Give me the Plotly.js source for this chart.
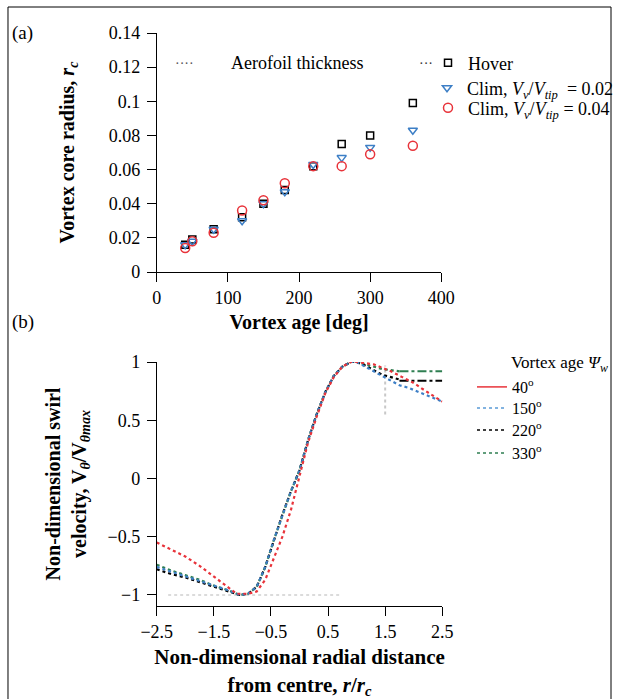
<!DOCTYPE html>
<html>
<head>
<meta charset="utf-8">
<script src="https://cdn.plot.ly/plotly-3.0.1.min.js"></script>
<style>html,body{margin:0;padding:0;background:#fff;}#chart{width:619px;height:699px;}</style>
</head>
<body>
<div id="chart"></div>
<script>
// ---------- Panel (a): vortex core radius vs vortex age ----------
var vortexAge = [40, 50, 80, 120, 150, 180, 220, 260, 300, 360];
var rcHover   = [0.016, 0.019, 0.025, 0.032, 0.040, 0.048, 0.062, 0.075, 0.080, 0.099];
var rcClim002 = [0.016, 0.018, 0.025, 0.030, 0.040, 0.047, 0.063, 0.067, 0.073, 0.083];
var rcClim004 = [0.014, 0.018, 0.023, 0.036, 0.042, 0.052, 0.062, 0.062, 0.069, 0.074];

// ---------- Panel (b): swirl velocity profiles ----------
var r40   = [-2.5, -2.25, -2.0, -1.75, -1.5, -1.25, -1.1, -0.9, -0.75, -0.6, -0.45, -0.3, -0.15, 0.0, 0.15, 0.3, 0.45, 0.6, 0.75, 0.9, 1.0, 1.15, 1.3, 1.45, 1.6, 1.8, 2.0, 2.15, 2.3, 2.5];
var v40   = [-0.55, -0.61, -0.67, -0.75, -0.84, -0.93, -0.99, -0.99, -0.97, -0.87, -0.69, -0.50, -0.27, 0.03, 0.31, 0.53, 0.73, 0.87, 0.96, 1.0, 1.0, 0.99, 0.98, 0.95, 0.92, 0.87, 0.82, 0.77, 0.72, 0.66];

var r150  = [-2.5, -2.25, -2.0, -1.75, -1.5, -1.25, -1.05, -0.9, -0.75, -0.6, -0.45, -0.3, -0.15, 0.0, 0.15, 0.3, 0.45, 0.6, 0.75, 0.9, 1.0, 1.15, 1.3, 1.45, 1.6, 1.75, 1.9, 2.1, 2.3, 2.5];
var v150  = [-0.76, -0.80, -0.84, -0.88, -0.92, -0.96, -1.0, -0.99, -0.93, -0.76, -0.53, -0.31, -0.11, 0.07, 0.33, 0.55, 0.74, 0.88, 0.96, 1.0, 1.0, 0.96, 0.92, 0.88, 0.84, 0.80, 0.78, 0.74, 0.70, 0.66];

var r220  = [-2.5, -2.25, -2.0, -1.75, -1.5, -1.25, -1.05, -0.9, -0.75, -0.6, -0.45, -0.3, -0.15, 0.0, 0.15, 0.3, 0.45, 0.6, 0.75, 0.9, 1.0, 1.15, 1.3, 1.45, 1.6, 1.75];
var v220  = [-0.78, -0.82, -0.85, -0.89, -0.93, -0.97, -1.0, -0.99, -0.93, -0.76, -0.53, -0.31, -0.11, 0.07, 0.33, 0.55, 0.74, 0.88, 0.96, 1.0, 1.0, 0.97, 0.93, 0.89, 0.87, 0.85];
var r220Ext = [1.75, 2.0, 2.25, 2.5];
var v220Ext = [0.84, 0.84, 0.84, 0.84];

var r330  = [-2.5, -2.25, -2.0, -1.75, -1.5, -1.25, -1.05, -0.9, -0.75, -0.6, -0.45, -0.3, -0.15, 0.0, 0.15, 0.3, 0.45, 0.6, 0.75, 0.9, 1.0, 1.15, 1.3, 1.45, 1.6, 1.75];
var v330  = [-0.74, -0.79, -0.83, -0.87, -0.92, -0.96, -1.0, -0.99, -0.93, -0.76, -0.53, -0.31, -0.11, 0.07, 0.33, 0.55, 0.74, 0.88, 0.96, 1.0, 1.0, 0.98, 0.96, 0.94, 0.93, 0.92];
var r330Ext = [1.75, 2.0, 2.25, 2.5];
var v330Ext = [0.92, 0.92, 0.92, 0.92];

// faint reference lines in panel (b)
var refHX = [-2.3, 0.7];
var refHY = [-1.0, -1.0];
var refVX = [1.5, 1.5];
var refVY = [0.55, 0.97];

var ticksA_x = [0, 100, 200, 300, 400];
var ticksA_y = [0, 0.02, 0.04, 0.06, 0.08, 0.1, 0.12, 0.14];
var ticksB_x = [-2.5, -1.5, -0.5, 0.5, 1.5, 2.5];
var ticksB_y = [-1, -0.5, 0, 0.5, 1];

var SERIF = 'Liberation Serif, Times New Roman, serif';
var RED = '#e8333a', BLUE = '#3d7fc6', BLUE2 = '#5a9ad6', GREEN = '#2f7f52';

var traces = [
  // panel (a)
  {x: vortexAge, y: rcHover, xaxis: 'x', yaxis: 'y', type: 'scatter', mode: 'markers', name: 'Hover', legend: 'legend',
   marker: {symbol: 'square-open', size: 7, color: '#000', line: {width: 1.5}}},
  {x: vortexAge, y: rcClim002, xaxis: 'x', yaxis: 'y', type: 'scatter', mode: 'markers', legend: 'legend3',
   name: 'Clim, <i>V</i><sub><i>v</i></sub>/<i>V</i><sub><i>tip</i></sub>  = 0.02',
   marker: {symbol: 'triangle-down-open', size: 8, color: BLUE, line: {width: 1.5}}},
  {x: vortexAge, y: rcClim004, xaxis: 'x', yaxis: 'y', type: 'scatter', mode: 'markers', legend: 'legend4',
   name: 'Clim, <i>V</i><sub><i>v</i></sub>/<i>V</i><sub><i>tip</i></sub> = 0.04',
   marker: {symbol: 'circle-open', size: 9, color: RED, line: {width: 1.5}}},

  // panel (b) reference lines
  {x: refHX, y: refHY, xaxis: 'x2', yaxis: 'y2', type: 'scatter', mode: 'lines', showlegend: false, hoverinfo: 'skip',
   line: {color: '#d0d0d0', width: 1.5, dash: 'dot'}},
  {x: refVX, y: refVY, xaxis: 'x2', yaxis: 'y2', type: 'scatter', mode: 'lines', showlegend: false, hoverinfo: 'skip',
   line: {color: '#c8c8c8', width: 2, dash: 'dot'}},

  // panel (b) curves
  {x: r330, y: v330, xaxis: 'x2', yaxis: 'y2', type: 'scatter', mode: 'lines', showlegend: false,
   line: {color: GREEN, width: 2.2, dash: 'dot'}},
  {x: r330Ext, y: v330Ext, xaxis: 'x2', yaxis: 'y2', type: 'scatter', mode: 'lines', showlegend: false,
   line: {color: GREEN, width: 2, dash: 'dashdot'}},
  {x: r220, y: v220, xaxis: 'x2', yaxis: 'y2', type: 'scatter', mode: 'lines', showlegend: false,
   line: {color: '#000', width: 2.2, dash: 'dot'}},
  {x: r220Ext, y: v220Ext, xaxis: 'x2', yaxis: 'y2', type: 'scatter', mode: 'lines', showlegend: false,
   line: {color: '#000', width: 2, dash: 'dashdot'}},
  {x: r150, y: v150, xaxis: 'x2', yaxis: 'y2', type: 'scatter', mode: 'lines', showlegend: false,
   line: {color: BLUE, width: 2.2, dash: 'dot'}},
  {x: r40, y: v40, xaxis: 'x2', yaxis: 'y2', type: 'scatter', mode: 'lines', showlegend: false,
   line: {color: RED, width: 2.2, dash: 'dot'}},

  // legend entries for panel (b)
  {x: [null], y: [null], xaxis: 'x2', yaxis: 'y2', type: 'scatter', mode: 'lines', name: '40<sup>o</sup>', legend: 'legend2',
   line: {color: RED, width: 1.5}},
  {x: [null], y: [null], xaxis: 'x2', yaxis: 'y2', type: 'scatter', mode: 'lines', name: '150<sup>o</sup>', legend: 'legend5',
   line: {color: BLUE2, width: 1.5, dash: 'dot'}},
  {x: [null], y: [null], xaxis: 'x2', yaxis: 'y2', type: 'scatter', mode: 'lines', name: '220<sup>o</sup>', legend: 'legend6',
   line: {color: '#000', width: 1.5, dash: 'dot'}},
  {x: [null], y: [null], xaxis: 'x2', yaxis: 'y2', type: 'scatter', mode: 'lines', name: '330<sup>o</sup>', legend: 'legend7',
   line: {color: GREEN, width: 1.5, dash: 'dot'}}
];

var axisCommon = {
  showgrid: false, zeroline: false, showline: true, linecolor: '#000', linewidth: 1,
  ticks: 'outside', ticklen: 9, tickcolor: '#000', tickwidth: 1,
  tickfont: {family: SERIF, size: 18, color: '#000'}, mirror: false
};
function ax(extra) { return Object.assign({}, axisCommon, extra); }

function legendAt(px, py, size) {
  return {x: px/619, y: 1 - py/699, xanchor: 'left', yanchor: 'middle', bgcolor: 'rgba(0,0,0,0)',
    font: {family: SERIF, size: size, color: '#000'}, itemwidth: 30, borderwidth: 0};
}

var layout = {
  width: 619, height: 699,
  margin: {l: 0, r: 0, t: 0, b: 0},
  paper_bgcolor: '#fff', plot_bgcolor: '#fff',
  font: {family: SERIF, color: '#000'},
  xaxis: ax({domain: [157/619, 442/619], range: [0, 400], tickmode: 'array', tickvals: ticksA_x, anchor: 'y',
    title: {text: '<b>Vortex age [deg]</b>', font: {family: SERIF, size: 20}, standoff: 8}}),
  yaxis: ax({domain: [1 - 272/699, 1 - 33/699], range: [0, 0.14], tickmode: 'array', tickvals: ticksA_y, anchor: 'x',
    ticklabelstandoff: 3,
    title: {text: '<b>Vortex core radius, <i>r</i></b><sub><b><i>c</i></b></sub>', font: {family: SERIF, size: 20}, standoff: 28}}),
  xaxis2: ax({domain: [157/619, 443/619], range: [-2.5, 2.5], tickmode: 'array', tickvals: ticksB_x, anchor: 'y2',
    title: {text: '<b>Non-dimensional radial distance</b><br><b>from centre, <i>r</i>/<i>r</i></b><sub><b><i>c</i></b></sub>', font: {family: SERIF, size: 21}, standoff: 9}}),
  yaxis2: ax({domain: [1 - 606/699, 1 - 362/699], range: [-1.095, 1], tickmode: 'array', tickvals: ticksB_y, anchor: 'x2',
    ticklabelstandoff: 3,
    title: {text: '<b>Non-dimensional swirl</b><br><b>velocity, V</b><sub><b><i>θ</i></b></sub><b>/V</b><sub><b><i>θmax</i></b></sub>', font: {family: SERIF, size: 20}, standoff: 15}}),
  legend:  legendAt(428, 63, 18),
  legend3: legendAt(428, 88, 18),
  legend4: legendAt(428, 108, 18),
  legend2: legendAt(472, 387, 16),
  legend5: legendAt(472, 408, 16),
  legend6: legendAt(472, 430, 16),
  legend7: legendAt(472, 453, 16),
  annotations: [
    {xref: 'paper', yref: 'paper', x: 10/619, y: 1 - 33/699, xanchor: 'left', yanchor: 'middle', showarrow: false,
     text: '(a)', font: {family: SERIF, size: 19}},
    {xref: 'paper', yref: 'paper', x: 10/619, y: 1 - 322/699, xanchor: 'left', yanchor: 'middle', showarrow: false,
     text: '(b)', font: {family: SERIF, size: 19}},
    {xref: 'paper', yref: 'paper', x: 297/619, y: 1 - 63/699, xanchor: 'center', yanchor: 'middle', showarrow: false,
     text: 'Aerofoil thickness', font: {family: SERIF, size: 18}},
    {xref: 'paper', yref: 'paper', x: 185/619, y: 1 - 63/699, xanchor: 'center', yanchor: 'middle', showarrow: false,
     text: '····', font: {family: SERIF, size: 14, color: '#555'}},
    {xref: 'paper', yref: 'paper', x: 427/619, y: 1 - 63/699, xanchor: 'center', yanchor: 'middle', showarrow: false,
     text: '···', font: {family: SERIF, size: 14, color: '#333'}},
    {xref: 'paper', yref: 'paper', x: 510/619, y: 1 - 364/699, xanchor: 'left', yanchor: 'middle', showarrow: false,
     text: 'Vortex age <i>Ψ</i><sub><i>w</i></sub>', font: {family: SERIF, size: 17}}
  ],
  shapes: [
    {type: 'rect', xref: 'paper', yref: 'paper', x0: 8/619, x1: 612/619, y0: -0.05, y1: 1 - 7/699,
     line: {color: '#000', width: 1}, fillcolor: 'rgba(0,0,0,0)', layer: 'below'}
  ]
};

Plotly.newPlot('chart', traces, layout, {staticPlot: true, displayModeBar: false});
</script>
</body>
</html>
